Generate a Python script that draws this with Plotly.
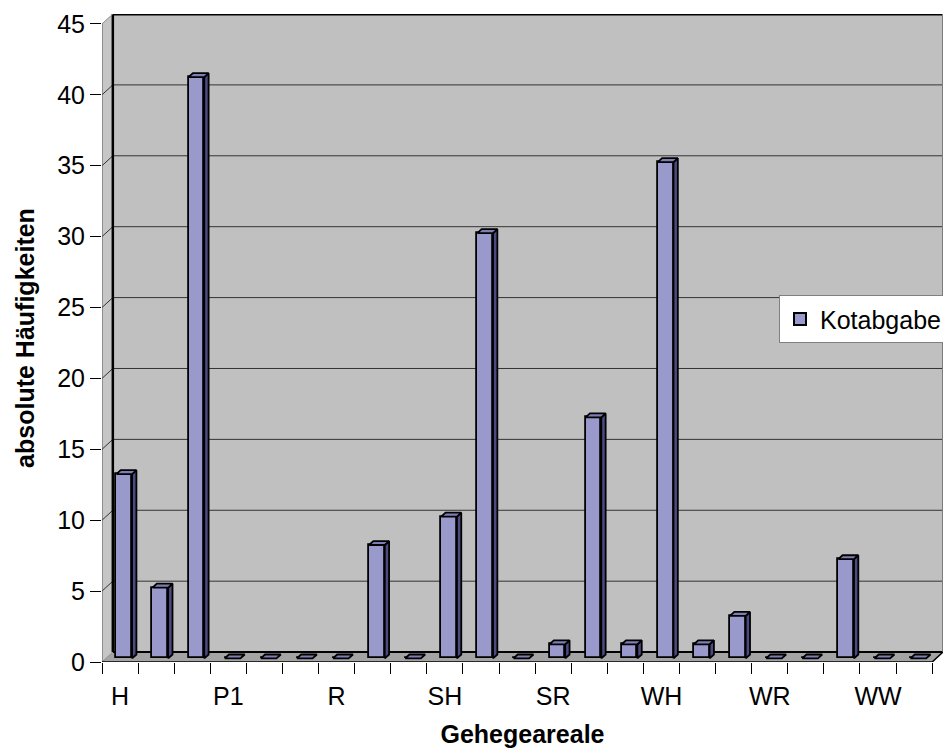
import plotly.graph_objects as go

# Gehegeareale (only every third area name is printed on the axis)
categories = ["H", "", "", "P1", "", "", "R", "", "", "SH", "", "",
              "SR", "", "", "WH", "", "", "WR", "", "", "WW", ""]
kotabgabe = [13, 5, 41, 0, 0, 0, 0, 8, 0, 10, 30, 0,
             1, 17, 1, 35, 1, 3, 0, 0, 7, 0, 0]
y_ticks = [0, 5, 10, 15, 20, 25, 30, 35, 40, 45]

FONT = "Arial, Liberation Sans, sans-serif"
FS = 25

# oblique depth of the 3-D box (in axis units)
DX, DY = 0.30, 0.70
# bar placement inside the depth, and the bar's own depth
BAR_W = 0.435
BAR_SHIFT = 0.116
BAR_BASE = 0.25
BDX, BDY = 0.12, 0.28

n = len(categories)
xs = list(range(n))
y_max = y_ticks[-1]
x_lo, x_hi = -0.5, n - 0.5

fig = go.Figure()

# front faces
fig.add_trace(go.Bar(
    x=[i + BAR_SHIFT for i in xs], y=kotabgabe, base=BAR_BASE, width=BAR_W,
    marker=dict(color="#9999CC", line=dict(color="black", width=1.8)),
    name="Kotabgabe", showlegend=True,
))

# side and top faces of every bar, derived from the same values
side_x, side_y, top_x, top_y = [], [], [], []
for i, v in zip(xs, kotabgabe):
    xl = i + BAR_SHIFT - BAR_W / 2
    xr = i + BAR_SHIFT + BAR_W / 2
    y0 = BAR_BASE
    y1 = BAR_BASE + v
    if v > 0:
        side_x += [xr, xr + BDX, xr + BDX, xr, xr, None]
        side_y += [y0, y0 + BDY, y1 + BDY, y1, y0, None]
    top_x += [xl, xl + BDX, xr + BDX, xr, xl, None]
    top_y += [y1, y1 + BDY, y1 + BDY, y1, y1, None]

fig.add_trace(go.Scatter(
    x=side_x, y=side_y, mode="lines", fill="toself", fillcolor="#4B4B82",
    line=dict(color="black", width=1.8), showlegend=False, hoverinfo="skip",
))
fig.add_trace(go.Scatter(
    x=top_x, y=top_y, mode="lines", fill="toself", fillcolor="#7E7EB6",
    line=dict(color="black", width=1.8), showlegend=False, hoverinfo="skip",
))

shapes = []


def poly(pts, fill, line_color=None, width=0):
    path = "M " + " L ".join(f"{x},{y}" for x, y in pts) + " Z"
    shapes.append(dict(type="path", path=path, xref="x", yref="y",
                       fillcolor=fill, layer="below",
                       line=dict(color=line_color or fill, width=width)))


def seg(x0, y0, x1, y1, color, width):
    shapes.append(dict(type="line", x0=x0, y0=y0, x1=x1, y1=y1,
                       xref="x", yref="y", layer="below",
                       line=dict(color=color, width=width)))


# walls and floor
poly([(x_lo + DX, DY), (x_hi + DX, DY), (x_hi + DX, y_max + DY),
      (x_lo + DX, y_max + DY)], "#C0C0C0")
poly([(x_lo, 0), (x_lo + DX, DY), (x_lo + DX, y_max + DY), (x_lo, y_max)],
     "#C6C6C6")
poly([(x_lo, 0), (x_hi, 0), (x_hi + DX, DY), (x_lo + DX, DY)], "#A4A4A4")

# gridlines on the back wall with their slant across the side wall
for v in y_ticks[1:-1]:
    seg(x_lo + DX, v + DY, x_hi + DX, v + DY, "#333333", 1)
    seg(x_lo, v, x_lo + DX, v + DY, "#333333", 1)

# box edges
seg(x_lo + DX, y_max + DY, x_hi + DX, y_max + DY, "black", 3)
seg(x_lo + DX, DY, x_lo + DX, y_max + DY, "black", 2.5)
seg(x_lo + DX, DY, x_hi + DX, DY, "black", 2)
seg(x_hi + DX, DY, x_hi + DX, y_max + DY, "#7A7A7A", 2)
seg(x_lo, y_max, x_lo + DX, y_max + DY, "#8A8A8A", 1)
seg(x_lo, 0, x_lo + DX, DY, "#8A8A8A", 1)
seg(x_lo, 0, x_lo, y_max, "#555555", 1)
seg(x_lo, 0, x_hi, 0, "black", 1.5)
seg(x_hi, 0, x_hi + DX, DY, "black", 1.5)

label_pos = [i for i, c in enumerate(categories) if c]
label_txt = [c for c in categories if c]

fig.update_layout(
    width=943, height=753,
    margin=dict(l=102, r=0, t=14, b=91, autoexpand=False),
    paper_bgcolor="white", plot_bgcolor="white",
    font=dict(family=FONT, size=FS, color="black"),
    shapes=shapes,
    bargap=0,
    xaxis=dict(
        range=[x_lo, x_hi + DX], tickvals=label_pos, ticktext=label_txt,
        ticks="outside", ticklen=12, tickcolor="rgba(0,0,0,0)",
        showgrid=False, zeroline=False, showline=False,
        tickfont=dict(family=FONT, size=FS, color="black"),
        minor=dict(tickvals=[b - 0.5 for b in range(n + 1)], ticks="outside",
                   ticklen=11, tickcolor="black", tickwidth=1, showgrid=False),
        title=dict(text="<b>Gehegeareale</b>", standoff=16,
                   font=dict(family=FONT, size=FS, color="black")),
    ),
    yaxis=dict(
        range=[0, y_max + DY], tickvals=y_ticks, ticks="outside", ticklen=11,
        tickcolor="black", showgrid=False, zeroline=False, showline=False,
        tickfont=dict(family=FONT, size=FS, color="black"),
        title=dict(text="<b>absolute Häufigkeiten</b>", standoff=15,
                   font=dict(family=FONT, size=FS, color="black")),
    ),
    legend=dict(
        x=0.805, y=0.529, xanchor="left", yanchor="middle",
        bgcolor="white", bordercolor="#808080", borderwidth=1,
        font=dict(family=FONT, size=FS, color="black"),
        itemsizing="constant",
    ),
)

fig.write_html("out.html")
